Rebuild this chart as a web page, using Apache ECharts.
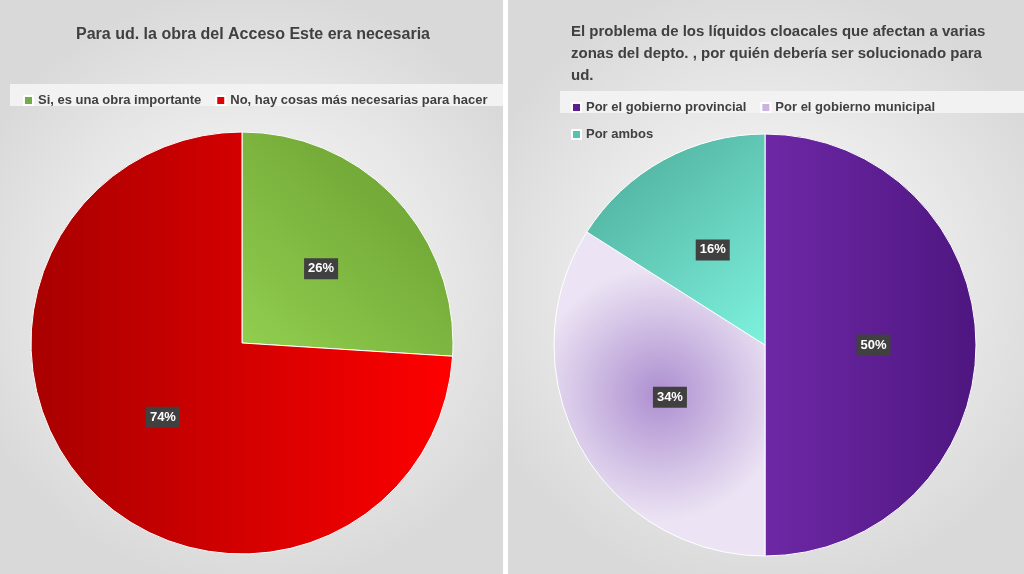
<!DOCTYPE html>
<html><head><meta charset="utf-8">
<script src="https://cdn.jsdelivr.net/npm/echarts@6/dist/echarts.min.js"></script>
<style>html,body{margin:0;padding:0;background:#fff}#c{width:1024px;height:574px}</style>
</head><body><div id="c"></div>
<script>
const leftCats = ['Si, es una obra importante', 'No, hay cosas más necesarias para hacer']
const leftVals = [26, 74]
const rightCats = ['Por el gobierno provincial', 'Por el gobierno municipal', 'Por ambos']
const rightVals = [50, 34, 16]

const lin = (x1, y1, x2, y2, a, b) => ({type: 'linear', x: x1, y: y1, x2: x2, y2: y2, colorStops: [{offset: 0, color: a}, {offset: 1, color: b}]})
const rad = (a, b) => ({type: 'radial', x: 0.5, y: 0.5, r: 0.6, colorStops: [{offset: 0, color: a}, {offset: 1, color: b}]})
const leftColors = [lin(0, 1, 1, 0, '#92d050', '#679a2e'), lin(0, 0, 1, 0, '#a80000', '#ff0000')]
const rightColors = [lin(1, 0.5, 0, 0.5, '#4e1680', '#6e28a6'), rad('#ad8fd0', '#ece4f4'), lin(0, 0, 1, 1, '#4aa896', '#7ef2de')]
const legendColors = ['#70ad47', '#e00000', '#5d1e8e', '#c9b4e0', '#52c4b0']

const label = {show: true, position: 'inside', formatter: '{c}%', color: '#fff', fontWeight: 'bold', fontSize: 13,
  backgroundColor: '#404040', padding: [4, 4], fontFamily: 'Liberation Sans'}

let chart = echarts.init(document.getElementById('c'))
chart.setOption({
  animation: false,
  textStyle: {fontFamily: 'Liberation Sans'},
  graphic: [
    {type: 'rect', z: -10, shape: {x: 0, y: 0, width: 503, height: 574}, style: {fill: rad('#ffffff', '#d9d9d9')}},
    {type: 'rect', z: -10, shape: {x: 508, y: 0, width: 516, height: 574}, style: {fill: rad('#ffffff', '#d9d9d9')}},
    {type: 'rect', z: -9, shape: {x: 10, y: 84, width: 493, height: 22}, style: {fill: '#f2f2f2'}},
    {type: 'rect', z: -9, shape: {x: 560, y: 91, width: 464, height: 22}, style: {fill: '#f2f2f2'}}
  ],
  title: [
    {text: 'Para ud. la obra del Acceso Este era necesaria', left: 248, top: 22, textAlign: 'center',
      textStyle: {fontSize: 16, fontWeight: 'bold', color: '#404040'}},
    {text: 'El problema de los líquidos cloacales que afectan a varias\nzonas del depto. , por quién debería ser solucionado para\nud.',
      left: 566, top: 16, textStyle: {fontSize: 15, fontWeight: 'bold', color: '#404040', lineHeight: 22}}
  ],
  legend: [
    {data: leftCats.map((n, i) => ({name: n, itemStyle: {color: legendColors[i]}})), left: 18, top: 89, itemWidth: 9, itemHeight: 9, itemGap: 14,
      icon: 'rect', textStyle: {fontSize: 13, fontWeight: 'bold', color: '#404040'}},
    {data: rightCats.map((n, i) => ({name: n, itemStyle: {color: legendColors[i + 2]}})), left: 566, top: 96, itemWidth: 9, itemHeight: 9, itemGap: 14,
      icon: 'rect', textStyle: {fontSize: 13, fontWeight: 'bold', color: '#404040'}}
  ],
  series: [
    {type: 'pie', center: [242, 343], radius: 211, startAngle: 90, label: label, labelLine: {show: false},
      itemStyle: {borderColor: '#fff', borderWidth: 1},
      data: leftCats.map((n, i) => ({name: n, value: leftVals[i], itemStyle: {color: leftColors[i]}}))},
    {type: 'pie', center: [765, 345], radius: 211, startAngle: 90, label: label, labelLine: {show: false},
      itemStyle: {borderColor: '#fff', borderWidth: 1},
      data: rightCats.map((n, i) => ({name: n, value: rightVals[i], itemStyle: {color: rightColors[i]}}))}
  ]
})
</script></body></html>
